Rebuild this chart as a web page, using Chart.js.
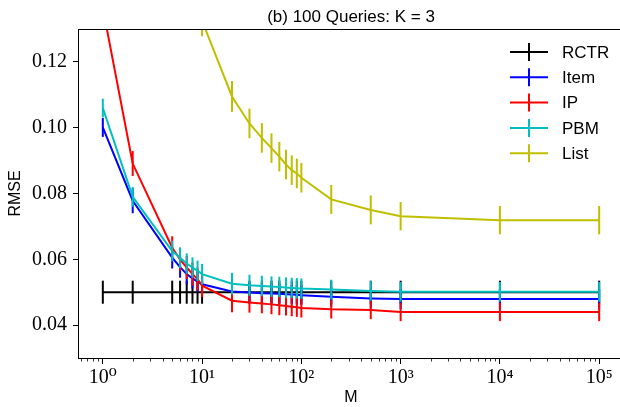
<!DOCTYPE html>
<html><head><meta charset="utf-8">
<script src="https://cdn.jsdelivr.net/npm/chart.js@4/dist/chart.umd.min.js"></script>
<style>
html,body{margin:0;padding:0;background:#fff;width:620px;height:407px;overflow:hidden}
#wrap{width:625px;height:407px}
</style></head>
<body><div id="wrap"><canvas id="c" width="625" height="407"></canvas></div>
<script>
// ---- data ----
const mValues   = [1,2,5,6,7,8,9,10,20,30,40,50,60,70,80,90,100,200,500,1000,10000,100000];
const rctrRmse  = [0.050,0.050,0.050,0.050,0.050,0.050,0.050,0.050,0.050,0.050,0.050,0.050,0.050,0.050,0.050,0.050,0.050,0.050,0.050,0.050,0.050,0.050];
const rctrErr   = [0.0035,0.0035,0.0035,0.0035,0.0035,0.0035,0.0035,0.0035,0.0035,0.0035,0.0035,0.0035,0.0035,0.0035,0.0035,0.0035,0.0035,0.0035,0.0035,0.0035,0.0035,0.0035];
const itemRmse  = [0.1001,0.0778,0.0605,0.0576,0.0555,0.0542,0.0532,0.0524,0.0502,0.0499,0.0497,0.0496,0.0495,0.0494,0.0493,0.0492,0.0491,0.0486,0.0481,0.0479,0.0479,0.0479];
const itemErr   = [0.0029,0.0038,0.0033,0.0032,0.0031,0.0031,0.0030,0.0030,0.0030,0.0030,0.0030,0.0030,0.0030,0.0030,0.0030,0.0030,0.0030,0.0030,0.0030,0.0030,0.0030,0.0030];
const ipRmse    = [0.1364,0.0891,0.0635,0.0600,0.0575,0.0555,0.0540,0.0520,0.0474,0.0469,0.0466,0.0463,0.0460,0.0458,0.0456,0.0454,0.0452,0.0448,0.0446,0.0440,0.0440,0.0440];
const ipErr     = [0.0040,0.0038,0.0035,0.0035,0.0035,0.0035,0.0035,0.0035,0.0035,0.0031,0.0030,0.0030,0.0030,0.0029,0.0029,0.0029,0.0029,0.0028,0.0028,0.0028,0.0028,0.0028];
const pbmRmse   = [0.1060,0.0790,0.0625,0.0605,0.0587,0.0575,0.0565,0.0555,0.0526,0.0521,0.0519,0.0517,0.0516,0.0514,0.0513,0.0512,0.0511,0.0508,0.0504,0.0501,0.0501,0.0501];
const pbmErr    = [0.0028,0.0030,0.0031,0.0031,0.0031,0.0031,0.0031,0.0031,0.0033,0.0032,0.0031,0.0031,0.0031,0.0031,0.0031,0.0031,0.0031,0.0030,0.0030,0.0030,0.0030,0.0030];
const listRmse  = [null,null,null,null,null,null,null,0.1325,0.1095,0.1013,0.0969,0.0938,0.0912,0.0888,0.0871,0.0861,0.0848,0.0782,0.0750,0.0731,0.0719,0.0719];
const listErr   = [null,null,null,null,null,null,null,0.0047,0.0047,0.0045,0.0045,0.0045,0.0045,0.0045,0.0045,0.0045,0.0045,0.0044,0.0044,0.0043,0.0043,0.0043];
const seriesLabels = ['RCTR','Item','IP','PBM','List'];
const xTickValues  = [1,10,100,1000,10000,100000];
const xTickLabels  = ['10⁰','10¹','10²','10³','10⁴','10⁵'];
const yTickValues  = [0.04,0.06,0.08,0.10,0.12];
const titleText = '(b) 100 Queries: K = 3';
const xTitle = 'M', yTitle = 'RMSE';

// ---- styles ----
const seriesColors = ['#000000','#0000ff','#ff0000','#00bfbf','#bfbf00'];
const SANS = '"Liberation Sans", Arial, sans-serif';
const SERIF = '"Liberation Serif", "DejaVu Serif", serif';

const allVals = [rctrRmse,itemRmse,ipRmse,pbmRmse,listRmse];
const allErrs = [rctrErr,itemErr,ipErr,pbmErr,listErr];

const datasets = seriesLabels.map((name,k)=>({
  label: name,
  data: mValues.map((m,i)=>({x:m,y:allVals[k][i]})),
  errors: allErrs[k],
  borderColor: seriesColors[k],
  backgroundColor: seriesColors[k],
  borderWidth: 2,
  pointRadius: 0,
  tension: 0,
  order: seriesLabels.length - k
}));

// minor x ticks (2..9 × decade) within range
const xMin = Math.pow(10,-0.25), xMax = Math.pow(10,5.25);
const xMinorTicks = [];
for (let d=-1; d<=5; d++) for (let m=2; m<=9; m++) {
  const v = m*Math.pow(10,d);
  if (v>=xMin && v<=xMax) xMinorTicks.push(v);
}

const errorBars = {
  id:'errorBars',
  afterDatasetDraw(chart,args){
    const ds = chart.data.datasets[args.index];
    const xs = chart.scales.x, ys = chart.scales.y, a = chart.chartArea;
    const ctx = chart.ctx;
    ctx.save();
    ctx.beginPath(); ctx.rect(a.left,a.top,a.right-a.left,a.bottom-a.top); ctx.clip();
    ctx.strokeStyle = ds.borderColor; ctx.lineWidth = 2;
    ds.data.forEach((p,i)=>{
      if (p.y==null) return;
      const e = ds.errors[i];
      const px = xs.getPixelForValue(p.x);
      ctx.beginPath();
      ctx.moveTo(px, ys.getPixelForValue(p.y+e));
      ctx.lineTo(px, ys.getPixelForValue(p.y-e));
      ctx.stroke();
    });
    ctx.restore();
  }
};

const decor = {
  id:'decor',
  afterDraw(chart){
    const ctx = chart.ctx, a = chart.chartArea, xs = chart.scales.x;
    ctx.save();
    // top spine
    ctx.strokeStyle='#000'; ctx.lineWidth=1;
    ctx.beginPath(); ctx.moveTo(a.left,a.top+0.5); ctx.lineTo(a.right,a.top+0.5); ctx.stroke();
    // minor x ticks
    ctx.lineWidth=0.8;
    xMinorTicks.forEach(v=>{
      const px = Math.round(xs.getPixelForValue(v))+0.5;
      ctx.beginPath(); ctx.moveTo(px,a.bottom); ctx.lineTo(px,a.bottom+3.5); ctx.stroke();
    });
    // legend
    const lx0 = a.right-114, lx1 = a.right-76, tx = a.right-62;
    ctx.font = '17px '+SANS; ctx.textBaseline='middle'; ctx.textAlign='left';
    chart.data.datasets.forEach((ds,k)=>{
      const y = a.top + 23 + k*25.3;
      ctx.strokeStyle = ds.borderColor; ctx.lineWidth = 2;
      ctx.beginPath(); ctx.moveTo(lx0,y); ctx.lineTo(lx1,y); ctx.stroke();
      const cx = (lx0+lx1)/2;
      ctx.beginPath(); ctx.moveTo(cx,y-9); ctx.lineTo(cx,y+9); ctx.stroke();
      ctx.fillStyle = '#000';
      ctx.fillText(ds.label, tx, y+1);
    });
    ctx.restore();
  }
};

new Chart(document.getElementById('c'), {
  type:'line',
  data:{datasets},
  plugins:[errorBars,decor],
  options:{
    responsive:false,
    animation:false,
    layout:{padding:{left:0,right:1,top:0,bottom:0}},
    plugins:{
      legend:{display:false},
      tooltip:{enabled:false},
      title:{display:true,text:titleText,fullSize:false,color:'#000',
        font:{family:SANS,size:17,weight:'normal',lineHeight:1.2},
        padding:{top:7,bottom:1.6}}
    },
    scales:{
      x:{
        type:'logarithmic', min:xMin, max:xMax,
        afterBuildTicks(s){ s.ticks = xTickValues.map(v=>({value:v,major:true})); },
        afterFit(s){ s.height = 49; },
        ticks:{
          autoSkip:false, maxRotation:0, color:'#000', padding:2,
          font:{family:SERIF,size:20},
          callback(v){ const i = xTickValues.indexOf(v); return i>=0 ? xTickLabels[i] : ''; }
        },
        grid:{display:true,drawOnChartArea:false,tickLength:6,tickColor:'#000',tickWidth:1},
        border:{display:true,color:'#000',width:1},
        title:{display:true,text:xTitle,color:'#000',font:{family:SANS,size:16,lineHeight:1.2},padding:{top:0,bottom:0}}
      },
      y:{
        type:'linear', min:0.03, max:0.13,
        afterBuildTicks(s){ s.ticks = yTickValues.map(v=>({value:v})); },
        afterFit(s){ s.width = 78; },
        ticks:{color:'#000',padding:6,font:{family:SERIF,size:20},callback(v){ return Number(v).toFixed(2); }},
        grid:{display:true,drawOnChartArea:false,tickLength:5,tickColor:'#000',tickWidth:1},
        border:{display:true,color:'#000',width:1},
        title:{display:true,text:yTitle,color:'#000',font:{family:SANS,size:16,lineHeight:1.2},padding:{top:6,bottom:0}}
      }
    }
  }
});
</script>
</body></html>
